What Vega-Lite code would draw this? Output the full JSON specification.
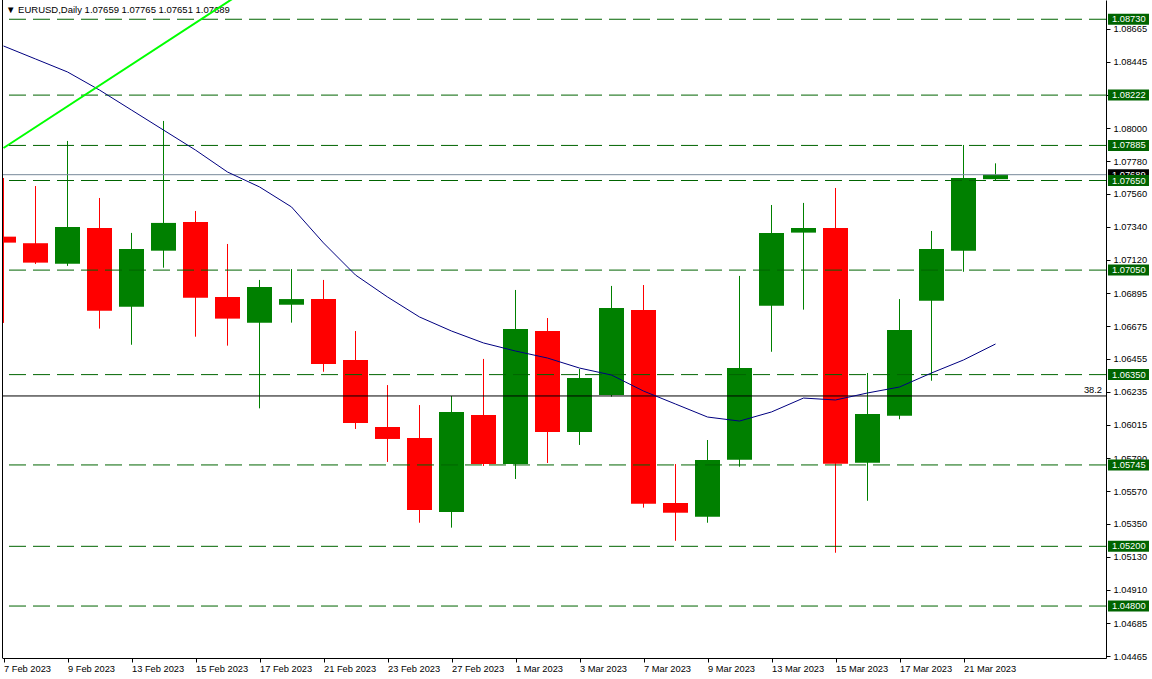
{
  "$schema": "https://vega.github.io/schema/vega-lite/v6.json",
  "width": 1104,
  "height": 658,
  "autosize": "none",
  "padding": {"left": 2, "top": 0, "right": 46, "bottom": 21},
  "background": "white",
  "config": {"view": {"stroke": null}, "font": "Liberation Sans"},
  "resolve": {"axis": {"x": "independent", "y": "independent"}},
  "datasets": {
    "candles": [
      {"i": 0, "date": "7 Feb 2023", "o": 1.07274, "h": 1.07667, "l": 1.06696, "c": 1.07234},
      {"i": 1, "date": "8 Feb 2023", "o": 1.07230, "h": 1.07613, "l": 1.07091, "c": 1.07100},
      {"i": 2, "date": "9 Feb 2023", "o": 1.07093, "h": 1.07915, "l": 1.07078, "c": 1.07339},
      {"i": 3, "date": "10 Feb 2023", "o": 1.07332, "h": 1.07533, "l": 1.06658, "c": 1.06778},
      {"i": 4, "date": "13 Feb 2023", "o": 1.06805, "h": 1.07299, "l": 1.06550, "c": 1.07191},
      {"i": 5, "date": "14 Feb 2023", "o": 1.07180, "h": 1.08049, "l": 1.07066, "c": 1.07366},
      {"i": 6, "date": "15 Feb 2023", "o": 1.07372, "h": 1.07446, "l": 1.06604, "c": 1.06865},
      {"i": 7, "date": "16 Feb 2023", "o": 1.06870, "h": 1.07225, "l": 1.06544, "c": 1.06725},
      {"i": 8, "date": "17 Feb 2023", "o": 1.06698, "h": 1.06984, "l": 1.06124, "c": 1.06937},
      {"i": 9, "date": "20 Feb 2023", "o": 1.06818, "h": 1.07057, "l": 1.06698, "c": 1.06856},
      {"i": 10, "date": "21 Feb 2023", "o": 1.06856, "h": 1.06984, "l": 1.06369, "c": 1.06421},
      {"i": 11, "date": "22 Feb 2023", "o": 1.06448, "h": 1.06642, "l": 1.05986, "c": 1.06026},
      {"i": 12, "date": "23 Feb 2023", "o": 1.05999, "h": 1.06280, "l": 1.05765, "c": 1.05919},
      {"i": 13, "date": "24 Feb 2023", "o": 1.05925, "h": 1.06146, "l": 1.05358, "c": 1.05443},
      {"i": 14, "date": "27 Feb 2023", "o": 1.05430, "h": 1.06207, "l": 1.05325, "c": 1.06100},
      {"i": 15, "date": "28 Feb 2023", "o": 1.06079, "h": 1.06455, "l": 1.05738, "c": 1.05751},
      {"i": 16, "date": "1 Mar 2023", "o": 1.05751, "h": 1.06917, "l": 1.05651, "c": 1.06656},
      {"i": 17, "date": "2 Mar 2023", "o": 1.06642, "h": 1.06729, "l": 1.05758, "c": 1.05966},
      {"i": 18, "date": "3 Mar 2023", "o": 1.05966, "h": 1.06388, "l": 1.05879, "c": 1.06327},
      {"i": 19, "date": "6 Mar 2023", "o": 1.06213, "h": 1.06944, "l": 1.06202, "c": 1.06796},
      {"i": 20, "date": "7 Mar 2023", "o": 1.06783, "h": 1.06950, "l": 1.05459, "c": 1.05485},
      {"i": 21, "date": "8 Mar 2023", "o": 1.05490, "h": 1.05751, "l": 1.05237, "c": 1.05425},
      {"i": 22, "date": "9 Mar 2023", "o": 1.05398, "h": 1.05912, "l": 1.05358, "c": 1.05778},
      {"i": 23, "date": "10 Mar 2023", "o": 1.05780, "h": 1.07011, "l": 1.05733, "c": 1.06394},
      {"i": 24, "date": "13 Mar 2023", "o": 1.06812, "h": 1.07486, "l": 1.06503, "c": 1.07299},
      {"i": 25, "date": "14 Mar 2023", "o": 1.07301, "h": 1.07500, "l": 1.06785, "c": 1.07332},
      {"i": 26, "date": "15 Mar 2023", "o": 1.07332, "h": 1.07600, "l": 1.05157, "c": 1.05753},
      {"i": 27, "date": "16 Mar 2023", "o": 1.05760, "h": 1.06361, "l": 1.05505, "c": 1.06086},
      {"i": 28, "date": "17 Mar 2023", "o": 1.06075, "h": 1.06856, "l": 1.06051, "c": 1.06649},
      {"i": 29, "date": "20 Mar 2023", "o": 1.06845, "h": 1.07312, "l": 1.06309, "c": 1.07191},
      {"i": 30, "date": "21 Mar 2023", "o": 1.07180, "h": 1.07888, "l": 1.07039, "c": 1.07667},
      {"i": 31, "date": "22 Mar 2023", "o": 1.07659, "h": 1.07765, "l": 1.07651, "c": 1.07689}
    ],
    "ma": [
      {"i": 0, "v": 1.08551}, {"i": 1, "v": 1.08464}, {"i": 2, "v": 1.08377}, {"i": 3, "v": 1.08256},
      {"i": 4, "v": 1.08122}, {"i": 5, "v": 1.07988}, {"i": 6, "v": 1.07854}, {"i": 7, "v": 1.07707},
      {"i": 8, "v": 1.07607}, {"i": 9, "v": 1.07473}, {"i": 10, "v": 1.07232}, {"i": 11, "v": 1.07017},
      {"i": 12, "v": 1.06870}, {"i": 13, "v": 1.06736}, {"i": 14, "v": 1.06642}, {"i": 15, "v": 1.06562},
      {"i": 16, "v": 1.06508}, {"i": 17, "v": 1.06461}, {"i": 18, "v": 1.06394}, {"i": 19, "v": 1.06347},
      {"i": 20, "v": 1.06240}, {"i": 21, "v": 1.06153}, {"i": 22, "v": 1.06066}, {"i": 23, "v": 1.06039},
      {"i": 24, "v": 1.06100}, {"i": 25, "v": 1.06193}, {"i": 26, "v": 1.06180}, {"i": 27, "v": 1.06227},
      {"i": 28, "v": 1.06267}, {"i": 29, "v": 1.06361}, {"i": 30, "v": 1.06448}, {"i": 31, "v": 1.06555}
    ],
    "levels": [
      {"v": 1.08730}, {"v": 1.08222}, {"v": 1.07885}, {"v": 1.07650}, {"v": 1.07050},
      {"v": 1.06350}, {"v": 1.05745}, {"v": 1.05200}, {"v": 1.04800}
    ],
    "trend": [
      {"i": 0, "p": 1.07868},
      {"i": 7.5, "p": 1.08915}
    ],
    "one": [{}]
  },
  "layer": [
    {
      "data": {"name": "candles"},
      "mark": {"type": "rule", "strokeWidth": 1, "clip": true},
      "encoding": {
        "x": {
          "field": "i", "type": "quantitative",
          "scale": {"domain": [-0.046875, 34.453125], "nice": false, "zero": false, "padding": 0},
          "axis": {
            "orient": "bottom", "title": null, "grid": false,
            "values": [0, 2, 4, 6, 8, 10, 12, 14, 16, 18, 20, 22, 24, 26, 28, 30],
            "labelExpr": "['7 Feb 2023','9 Feb 2023','13 Feb 2023','15 Feb 2023','17 Feb 2023','21 Feb 2023','23 Feb 2023','27 Feb 2023','1 Mar 2023','3 Mar 2023','7 Mar 2023','9 Mar 2023','13 Mar 2023','15 Mar 2023','17 Mar 2023','21 Mar 2023'][round(datum.value/2)]",
            "labelAlign": "left", "labelAngle": 0, "labelBaseline": "top", "labelPadding": 2,
            "labelFont": "Liberation Sans", "labelFontSize": 9.3, "labelColor": "black",
            "tickSize": 4, "tickColor": "black", "domainColor": "black",
            "labelFlush": false, "labelOverlap": false
          }
        },
        "y": {
          "field": "l", "type": "quantitative",
          "scale": {"domain": [1.04452, 1.08859], "nice": false, "zero": false, "padding": 0},
          "axis": {
            "orient": "right", "title": null, "grid": false,
            "values": [1.04465, 1.04685, 1.0491, 1.0513, 1.0535, 1.0557, 1.0579, 1.06015, 1.06235, 1.06455, 1.06675, 1.06895, 1.0712, 1.0734, 1.0756, 1.0778, 1.08, 1.0822, 1.08445, 1.08665],
            "format": ".5f",
            "labelFont": "Liberation Sans", "labelFontSize": 9.3, "labelColor": "black",
            "labelPadding": 3, "tickSize": 4, "tickColor": "black", "domainColor": "black",
            "labelFlush": false, "labelOverlap": false
          }
        },
        "y2": {"field": "h"},
        "color": {"condition": {"test": "datum.c >= datum.o", "value": "#008000"}, "value": "#ff0000"}
      }
    },
    {
      "data": {"name": "candles"},
      "mark": {"type": "bar", "width": 25, "clip": true},
      "encoding": {
        "x": {"field": "i", "type": "quantitative", "axis": null},
        "y": {"field": "o", "type": "quantitative", "axis": null},
        "y2": {"field": "c"},
        "color": {"condition": {"test": "datum.c >= datum.o", "value": "#008000"}, "value": "#ff0000"}
      }
    },
    {
      "data": {"name": "levels"},
      "mark": {"type": "rule", "color": "#006400", "strokeWidth": 1, "strokeDash": [17, 7]},
      "encoding": {
        "y": {"field": "v", "type": "quantitative", "axis": null}
      }
    },
    {
      "data": {"name": "one"},
      "mark": {"type": "rule", "color": "black", "strokeWidth": 1},
      "encoding": {
        "y": {"datum": 1.06207, "type": "quantitative", "axis": null}
      }
    },
    {
      "data": {"name": "one"},
      "mark": {"type": "rule", "color": "#778899", "strokeWidth": 1},
      "encoding": {
        "y": {"datum": 1.07689, "type": "quantitative", "axis": null}
      }
    },
    {
      "data": {"name": "ma"},
      "mark": {"type": "line", "color": "#000080", "strokeWidth": 1, "clip": true},
      "encoding": {
        "x": {"field": "i", "type": "quantitative", "axis": null},
        "y": {"field": "v", "type": "quantitative", "axis": null}
      }
    },
    {
      "data": {"name": "one"},
      "mark": {"type": "text", "align": "left", "baseline": "middle", "fontSize": 9.5, "font": "Liberation Sans", "color": "black"},
      "encoding": {
        "x": {"datum": 0.08, "type": "quantitative", "axis": null},
        "y": {"datum": 1.08792, "type": "quantitative", "axis": null},
        "text": {"value": "▼ EURUSD,Daily  1.07659 1.07765 1.07651 1.07689"}
      }
    },
    {
      "data": {"name": "trend"},
      "mark": {"type": "line", "color": "#00ff00", "strokeWidth": 2, "clip": true},
      "encoding": {
        "x": {"field": "i", "type": "quantitative", "axis": null},
        "y": {"field": "p", "type": "quantitative", "axis": null}
      }
    },
    {
      "data": {"name": "one"},
      "mark": {"type": "rule", "color": "black", "strokeWidth": 1},
      "encoding": {
        "x": {"datum": -0.03125, "type": "quantitative", "axis": null}
      }
    },
    {
      "data": {"name": "one"},
      "mark": {"type": "text", "align": "right", "baseline": "bottom", "dy": -1, "fontSize": 9.3, "font": "Liberation Sans", "color": "black"},
      "encoding": {
        "x": {"datum": 34.33, "type": "quantitative", "axis": null},
        "y": {"datum": 1.06207, "type": "quantitative", "axis": null},
        "text": {"value": "38.2"}
      }
    },
    {
      "data": {"name": "one"},
      "mark": {"type": "rect", "width": 41, "height": 11, "color": "black"},
      "encoding": {
        "x": {"datum": 35.156, "type": "quantitative", "axis": null},
        "y": {"datum": 1.07689, "type": "quantitative", "axis": null}
      }
    },
    {
      "data": {"name": "one"},
      "mark": {"type": "text", "align": "left", "baseline": "middle", "fontSize": 9.3, "font": "Liberation Sans", "color": "white"},
      "encoding": {
        "x": {"datum": 34.64, "type": "quantitative", "axis": null},
        "y": {"datum": 1.07689, "type": "quantitative", "axis": null},
        "text": {"value": "1.07689"}
      }
    },
    {
      "data": {"name": "levels"},
      "mark": {"type": "rect", "width": 41, "height": 11, "color": "#006400"},
      "encoding": {
        "x": {"datum": 35.156, "type": "quantitative", "axis": null},
        "y": {"field": "v", "type": "quantitative", "axis": null}
      }
    },
    {
      "data": {"name": "levels"},
      "mark": {"type": "text", "align": "left", "baseline": "middle", "fontSize": 9.3, "font": "Liberation Sans", "color": "white"},
      "encoding": {
        "x": {"datum": 34.64, "type": "quantitative", "axis": null},
        "y": {"field": "v", "type": "quantitative", "axis": null},
        "text": {"field": "v", "type": "quantitative", "format": ".5f"}
      }
    }
  ]
}
